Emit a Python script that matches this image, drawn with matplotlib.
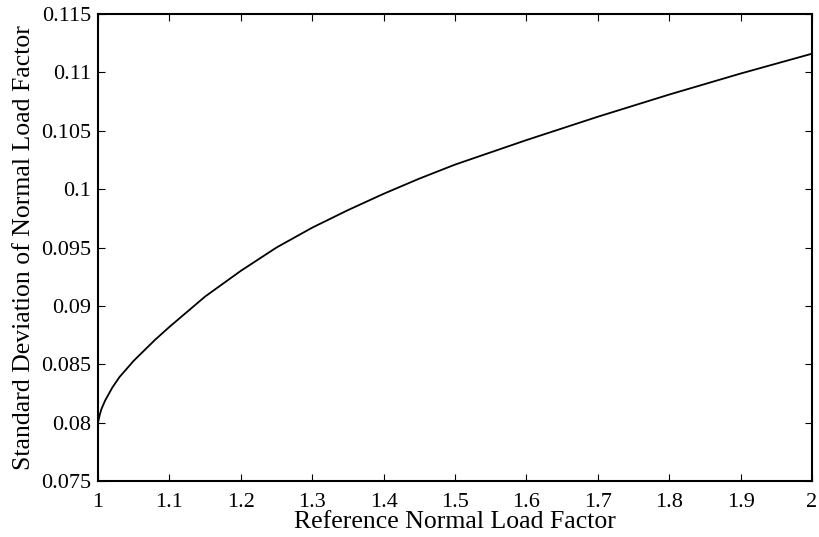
import numpy as np
import matplotlib.pyplot as plt
from matplotlib.ticker import FuncFormatter

# values
load_factor = [1.0, 1.0025, 1.005, 1.01, 1.02, 1.03, 1.04, 1.05, 1.065, 1.08,
               1.1, 1.125, 1.15, 1.175, 1.2, 1.25, 1.3, 1.35, 1.4, 1.45,
               1.5, 1.6, 1.7, 1.8, 1.9, 2.0]
std_dev = [0.0800, 0.0807, 0.0812, 0.0819, 0.0830, 0.0839, 0.0846, 0.0853, 0.0862, 0.0871,
           0.0882, 0.0895, 0.0908, 0.0919, 0.0930, 0.0950, 0.0967, 0.0982, 0.0996, 0.1009,
           0.1021, 0.1042, 0.1062, 0.1081, 0.1099, 0.1116]

x_ticks = np.round(np.arange(1.0, 2.01, 0.1), 1)
y_ticks = np.round(np.arange(0.075, 0.1151, 0.005), 3)

plt.rcParams['font.family'] = ['Liberation Serif', 'DejaVu Serif']

fig = plt.figure(figsize=(8.19, 5.37), dpi=100)
ax = fig.add_axes([0.1197, 0.1043, 0.8717, 0.8696])

ax.plot(load_factor, std_dev, color='black', linewidth=1.3)

ax.set_xlim(1, 2)
ax.set_ylim(0.075, 0.115)
ax.set_xticks(x_ticks)
ax.set_yticks(y_ticks)
fmt = FuncFormatter(lambda v, pos: '%g' % v)
ax.xaxis.set_major_formatter(fmt)
ax.yaxis.set_major_formatter(fmt)

ax.tick_params(direction='in', top=True, right=True, length=5, width=0.8,
               labelsize=16)
ax.tick_params(axis='x', pad=9)
ax.tick_params(axis='y', pad=5)
for s in ax.spines.values():
    s.set_linewidth(1.5)

ax.set_xlabel('Reference Normal Load Factor', fontsize=18.5, labelpad=-1)
ax.set_ylabel('Standard Deviation of Normal Load Factor', fontsize=18.5, labelpad=4)

fig.savefig('out.png', dpi=100)
